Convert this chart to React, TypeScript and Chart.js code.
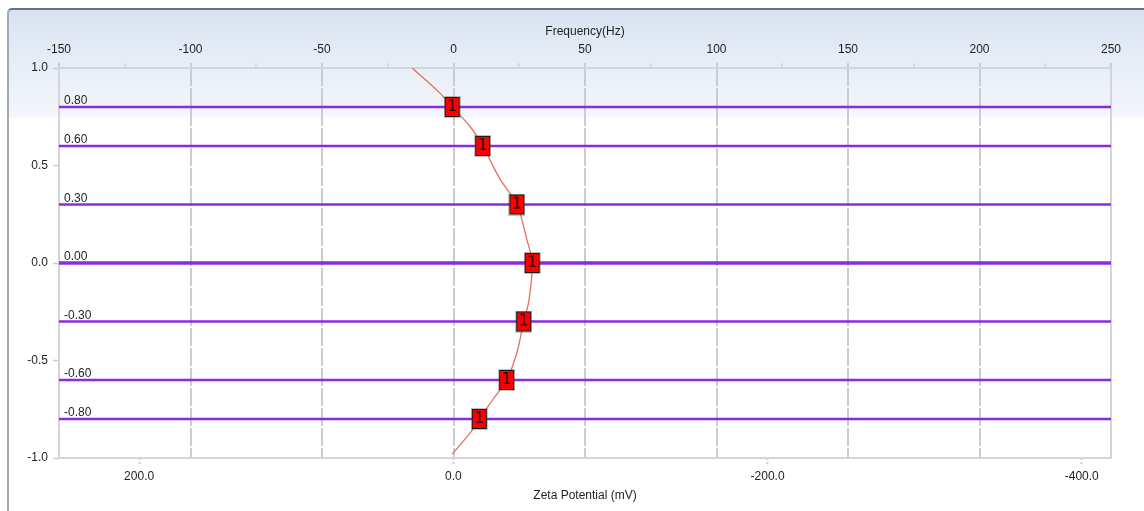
import React, { useEffect, useRef } from 'react';
import { Chart, registerables } from 'chart.js';

Chart.register(...registerables);

// ---- data ----
const freqMajor = [-150, -100, -50, 0, 50, 100, 150, 200, 250];
const freqMinor = [-125, -75, -25, 25, 75, 125, 175, 225];
const zetaTicks = [200, 0, -200, -400];
const yTicks = [1.0, 0.5, 0.0, -0.5, -1.0];

const levels = [0.8, 0.6, 0.3, 0.0, -0.3, -0.6, -0.8];
const levelLabels = ['0.80', '0.60', '0.30', '0.00', '-0.30', '-0.60', '-0.80'];

const markerHz = [-0.5, 11.1, 24.1, 29.9, 26.7, 20.2, 9.8];
const markerText = ['1', '1', '1', '1', '1', '1', '1'];

const curveHz = [-15.7, -5.1, -0.5, 6.3, 11.1, 17.7, 24.1, 27.9, 29.9, 28.7, 26.7, 24.1, 20.2, 15.0, 9.8, 7.0, -0.5];
const curveY = [1.0, 0.87, 0.8, 0.7, 0.6, 0.43, 0.3, 0.12, 0.0, -0.19, -0.3, -0.46, -0.6, -0.7, -0.8, -0.86, -0.98];

const FONT = 'Liberation Sans';
const FSIZE = 12;
const TEXT = '#1e1e1e';
const GRID = '#c9cdd3';
const PURPLE = '#8a2be2';

function makeMarker(text: string): HTMLCanvasElement {
  const c = document.createElement('canvas');
  c.width = 17;
  c.height = 22;
  const g = c.getContext('2d')!;
  g.fillStyle = 'rgba(80,80,80,0.35)';
  g.fillRect(0, 0, 17, 22);
  g.fillStyle = '#ff0000';
  g.fillRect(1, 1, 15, 20);
  g.strokeStyle = '#1a1a1a';
  g.lineWidth = 1;
  g.strokeRect(1.5, 1.5, 14, 19);
  g.fillStyle = '#111';
  g.font = `15px "DejaVu Sans"`;
  g.textAlign = 'center';
  g.textBaseline = 'middle';
  g.fillText(text, 8.5, 11.5);
  return c;
}

const framePlugin = {
  id: 'frameAndLabels',
  beforeDatasetsDraw(chart: any) {
    const { ctx, chartArea } = chart;
    ctx.save();
    ctx.strokeStyle = '#d2d5da';
    ctx.lineWidth = 2;
    ctx.strokeRect(chartArea.left, chartArea.top, chartArea.right - chartArea.left, chartArea.bottom - chartArea.top);
    ctx.restore();
  },
  afterDatasetsDraw(chart: any) {
    const { ctx, chartArea, scales } = chart;
    ctx.save();
    ctx.font = `${FSIZE}px "${FONT}"`;
    ctx.fillStyle = TEXT;
    ctx.textAlign = 'left';
    ctx.textBaseline = 'alphabetic';
    levels.forEach((lv, i) => {
      const y = scales.y.getPixelForValue(lv);
      ctx.fillText(levelLabels[i], chartArea.left + 5, y - 3);
    });
    ctx.restore();
  },
};

export default function App() {
  const ref = useRef<HTMLCanvasElement>(null);

  useEffect(() => {
    const markers = markerText.map((t) => makeMarker(t));

    const levelSets = levels.map((lv) => ({
      label: 'level',
      data: [
        { x: freqMajor[0], y: lv },
        { x: freqMajor[freqMajor.length - 1], y: lv },
      ],
      showLine: true,
      borderColor: PURPLE,
      borderWidth: lv === 0 ? 3.5 : 2.5,
      pointRadius: 0,
      order: 3,
      xAxisID: 'x',
      yAxisID: 'y',
    }));

    const font = { family: FONT, size: FSIZE };

    const chart = new Chart(ref.current!, {
      type: 'scatter',
      data: {
        datasets: [
          {
            label: 'markers',
            data: markerHz.map((x, i) => ({ x, y: levels[i] })),
            showLine: false,
            pointStyle: markers as any,
            pointRadius: 8,
            order: 1,
            xAxisID: 'x',
            yAxisID: 'y',
          } as any,
          {
            label: 'curve',
            data: curveHz.map((x, i) => ({ x, y: curveY[i] })),
            showLine: true,
            borderColor: 'rgba(222,100,75,0.9)',
            borderWidth: 1.3,
            tension: 0.35,
            pointRadius: 0,
            order: 2,
            xAxisID: 'x',
            yAxisID: 'y',
          },
          ...levelSets,
        ],
      },
      options: {
        animation: false,
        responsive: false,
        events: [],
        layout: { padding: { left: 0, right: 33, top: 0, bottom: 0 } },
        plugins: { legend: { display: false }, tooltip: { enabled: false } },
        font,
        scales: {
          x: {
            type: 'linear',
            position: 'top',
            min: -150,
            max: 250,
            afterBuildTicks: (scale: any) => {
              scale.ticks = [...freqMajor, ...freqMinor].sort((a, b) => a - b).map((v) => ({ value: v }));
            },
            afterFit: (scale: any) => {
              scale.height = 68;
            },
            ticks: {
              autoSkip: false,
              maxRotation: 0,
              padding: 6,
              color: TEXT,
              font,
              callback: (v: any) => (freqMajor.includes(v) ? String(v) : ''),
            },
            grid: {
              drawOnChartArea: true,
              tickLength: 5,
              color: (c: any) => {
                const v = c.tick?.value;
                if (v === -150 || v === 250) return 'rgba(0,0,0,0)';
                return freqMajor.includes(v) ? GRID : 'rgba(0,0,0,0)';
              },
              lineWidth: 2,
              tickColor: GRID,
              tickWidth: (c: any) => (freqMajor.includes(c.tick?.value) ? 2 : 1),
            },
            border: { display: false, dash: [18, 2] },
            title: {
              display: true,
              text: 'Frequency(Hz)',
              color: TEXT,
              font,
              padding: { top: 24, bottom: 0 },
            },
          },
          x2: {
            type: 'linear',
            position: 'bottom',
            display: true,
            reverse: true,
            min: -418.6,
            max: 251.0,
            afterBuildTicks: (scale: any) => {
              scale.ticks = zetaTicks.map((v) => ({ value: v }));
            },
            afterFit: (scale: any) => {
              scale.height = 53;
            },
            ticks: {
              autoSkip: false,
              maxRotation: 0,
              padding: 4,
              color: TEXT,
              font,
              callback: (v: any) => Number(v).toFixed(1),
            },
            grid: {
              drawOnChartArea: false,
              tickLength: 7,
              tickColor: GRID,
              tickWidth: 2,
              tickBorderDash: [2, 2],
            },
            border: { display: false },
            title: {
              display: true,
              text: 'Zeta Potential (mV)',
              color: TEXT,
              font,
              padding: { top: 0, bottom: 8 },
            },
          },
          y: {
            type: 'linear',
            position: 'left',
            min: -1,
            max: 1,
            afterBuildTicks: (scale: any) => {
              scale.ticks = yTicks.map((v) => ({ value: v }));
            },
            afterFit: (scale: any) => {
              scale.width = 59;
            },
            ticks: {
              padding: 5,
              color: TEXT,
              font,
              callback: (v: any) => Number(v).toFixed(1),
            },
            grid: {
              drawOnChartArea: false,
              tickLength: 6,
              tickColor: GRID,
              tickWidth: 1.5,
            },
            border: { display: false },
          },
        },
      } as any,
      plugins: [framePlugin],
    });
    return () => chart.destroy();
  }, []);

  return (
    <div style={{ position: 'fixed', left: 0, top: 0, width: 1144, height: 511, background: '#fff', overflow: 'hidden' }}>
      <div
        style={{
          position: 'absolute',
          left: 7,
          top: 8,
          right: -10,
          bottom: -10,
          borderLeft: '2px solid #a4a9ae',
          borderTop: '2px solid #6e747b',
          borderTopLeftRadius: 5,
          background: 'linear-gradient(to bottom, #d8e2f1 0px, #e6edf7 50px, #f4f7fb 106px, #ffffff 108px)',
        }}
      />
      <canvas ref={ref} width={1144} height={511} style={{ position: 'absolute', left: 0, top: 0, width: 1144, height: 511 }} />
    </div>
  );
}
